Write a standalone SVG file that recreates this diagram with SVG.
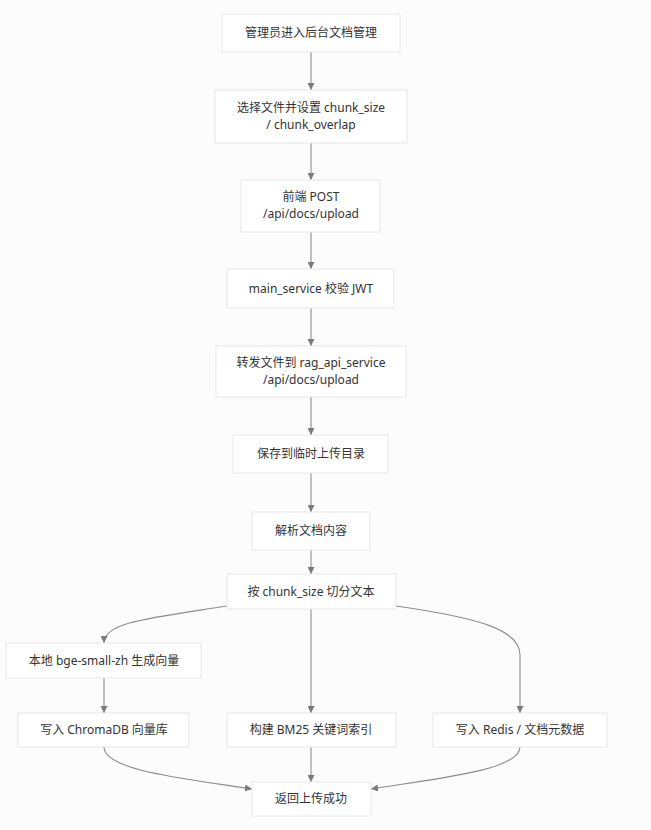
<svg xmlns="http://www.w3.org/2000/svg" width="651" height="830" viewBox="0 0 651 830">
<style>
.bg{fill:#fcfcfc}
.node rect{fill:#ffffff;stroke:#e6e6e6;stroke-width:1}
.node text{font-family:"Noto Sans","Noto Sans CJK SC",sans-serif;font-size:12px;fill:#333333;text-anchor:middle}
.edges path{fill:none;stroke:#8c8c8c;stroke-width:1.1}
</style>
<defs>
<marker id="arr" viewBox="0 0 10 10" refX="10" refY="5" markerWidth="7" markerHeight="7" markerUnits="userSpaceOnUse" orient="auto">
<path d="M0,0 L10,5 L0,10 z" fill="#7a7a7a"/>
</marker>
</defs>
<rect class="bg" x="0" y="0" width="651" height="830"/>
<g class="edges">
<path d="M311,52 V90" marker-end="url(#arr)"/>
<path d="M311,143 V180" marker-end="url(#arr)"/>
<path d="M311,232 V269" marker-end="url(#arr)"/>
<path d="M311,308 V346" marker-end="url(#arr)"/>
<path d="M311,397 V435" marker-end="url(#arr)"/>
<path d="M311,473 V512" marker-end="url(#arr)"/>
<path d="M311,550 V574" marker-end="url(#arr)"/>
<path d="M227,606 C150,618 104,622 104,643" marker-end="url(#arr)"/>
<path d="M311,609 V713" marker-end="url(#arr)"/>
<path d="M396,606 C480,618 520,630 520,655 V713" marker-end="url(#arr)"/>
<path d="M104,678 V713" marker-end="url(#arr)"/>
<path d="M104,747 C104,770 180,778 252,789" marker-end="url(#arr)"/>
<path d="M311,747 V782" marker-end="url(#arr)"/>
<path d="M520,747 C520,770 440,778 371,789" marker-end="url(#arr)"/>
</g>
<g id="n1" class="node"><rect x="222" y="14" width="178" height="38"/><text x="311" y="37">管理员进入后台文档管理</text></g>
<g id="n2" class="node"><rect x="215" y="90" width="192" height="53"/><text x="311" y="112">选择文件并设置 chunk_size</text><text x="311" y="129">/ chunk_overlap</text></g>
<g id="n3" class="node"><rect x="241" y="180" width="139" height="52"/><text x="311" y="201">前端 POST</text><text x="311" y="218">/api/docs/upload</text></g>
<g id="n4" class="node"><rect x="227" y="269" width="167" height="39"/><text x="311" y="293">main_service 校验 JWT</text></g>
<g id="n5" class="node"><rect x="216" y="346" width="190" height="51"/><text x="311" y="367">转发文件到 rag_api_service</text><text x="311" y="384">/api/docs/upload</text></g>
<g id="n6" class="node"><rect x="233" y="435" width="155" height="38"/><text x="311" y="458">保存到临时上传目录</text></g>
<g id="n7" class="node"><rect x="252" y="512" width="118" height="38"/><text x="311" y="535">解析文档内容</text></g>
<g id="n8" class="node"><rect x="227" y="574" width="169" height="35"/><text x="311" y="596">按 chunk_size 切分文本</text></g>
<g id="n9" class="node"><rect x="6" y="643" width="195" height="35"/><text x="104" y="665">本地 bge-small-zh 生成向量</text></g>
<g id="n10" class="node"><rect x="18" y="713" width="171" height="34"/><text x="104" y="734">写入 ChromaDB 向量库</text></g>
<g id="n11" class="node"><rect x="227" y="713" width="169" height="34"/><text x="311" y="734">构建 BM25 关键词索引</text></g>
<g id="n12" class="node"><rect x="433" y="713" width="174" height="34"/><text x="520" y="734">写入 Redis / 文档元数据</text></g>
<g id="n13" class="node"><rect x="252" y="782" width="119" height="34"/><text x="311" y="803">返回上传成功</text></g>
</svg>
